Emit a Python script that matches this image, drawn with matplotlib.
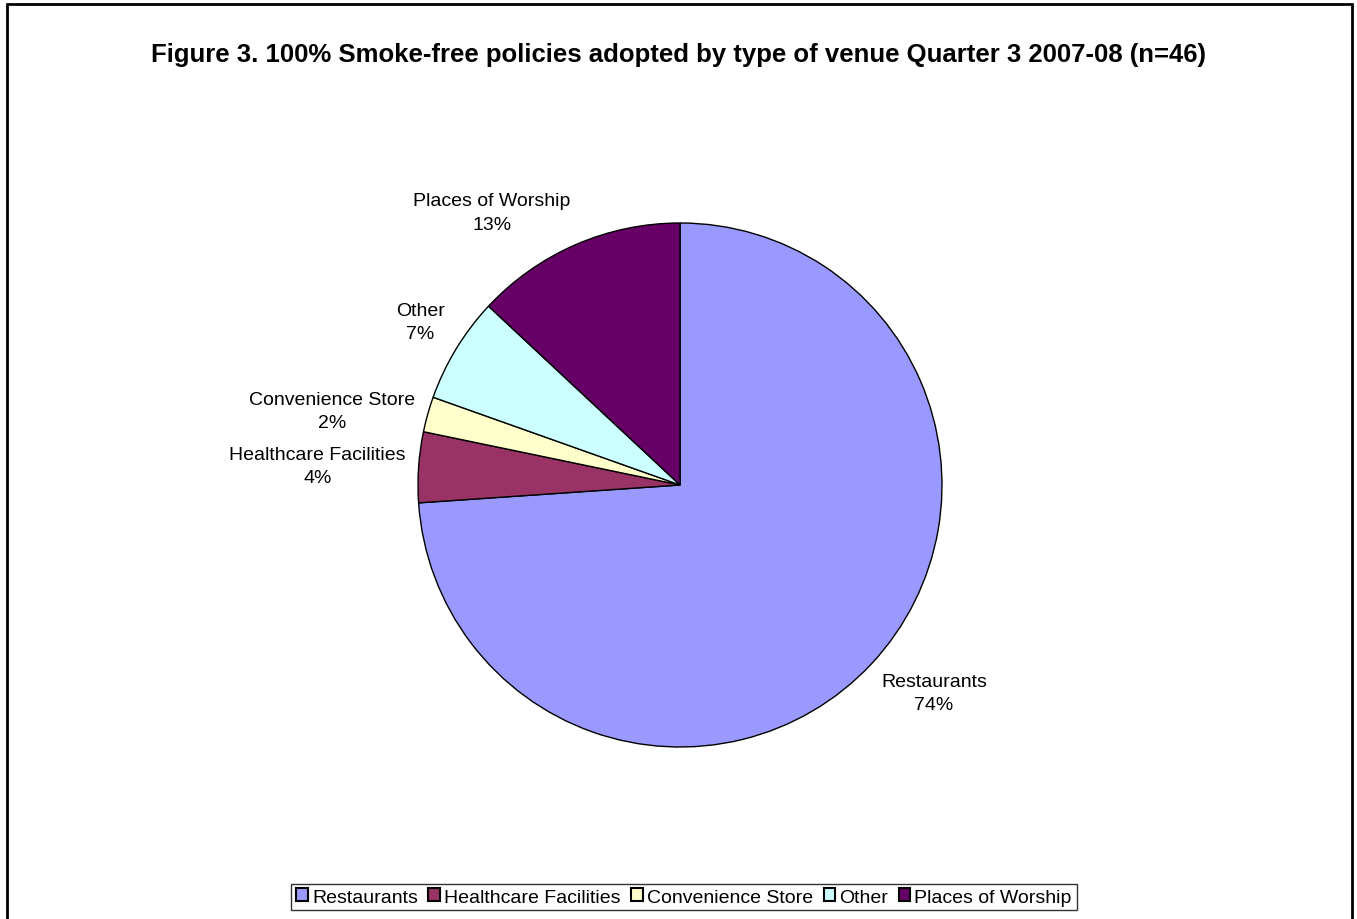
import numpy as np
import matplotlib.pyplot as plt
from matplotlib.patches import Rectangle

plt.rcParams['font.family'] = ['Liberation Sans', 'DejaVu Sans']

venues = ["Restaurants", "Healthcare Facilities", "Convenience Store", "Other", "Places of Worship"]
counts = [34, 2, 1, 3, 6]
pct_labels = ["74%", "4%", "2%", "7%", "13%"]
colors = ["#9999FF", "#993366", "#FFFFCC", "#CCFFFF", "#660066"]

W, H = 1357, 920
fig = plt.figure(figsize=(W / 100, H / 100), dpi=100)
ax = fig.add_axes([0, 0, 1, 1])

# outer chart frame (bottom edge runs off the page)
ax.add_patch(Rectangle((7, -20), 1345, H - 5 + 20, fill=False, ec='black', lw=2, clip_on=False))

ax.text(W / 2, H - 55, "Figure 3. 100% Smoke-free policies adopted by type of venue Quarter 3 2007-08 (n=46)",
        ha='center', va='center', fontsize=18.5, fontweight='bold')

cx, cy, r = 680, H - 486, 262
wedges, _ = ax.pie(counts, colors=colors, startangle=90, counterclock=False,
                   center=(cx, cy), radius=r, frame=True,
                   wedgeprops=dict(edgecolor='black', linewidth=1))
ax.set_xlim(0, W)
ax.set_ylim(0, H)
ax.set_aspect('equal')
ax.axis('off')

for w, name, p in zip(wedges, venues, pct_labels):
    ang = np.deg2rad((w.theta1 + w.theta2) / 2)
    x = cx + r * 1.05 * np.cos(ang)
    y = cy + r * 1.05 * np.sin(ang)
    ha = 'left' if np.cos(ang) > 0 else 'right'
    s = np.sin(ang)
    va = 'bottom' if s > 0.5 else ('top' if s < -0.5 else 'center')
    ax.text(x, y, f"{name}\n{p}", ha=ha, va=va, multialignment='center',
            fontsize=14, linespacing=1.5)

leg = ax.legend(wedges, venues, loc='center', bbox_to_anchor=(684 / W, 1 - 898 / H),
                ncol=5, frameon=True, fancybox=False, fontsize=14,
                handlelength=0.6, handleheight=0.6, handletextpad=0.2,
                columnspacing=0.55, borderpad=0.25, borderaxespad=0)
leg.get_frame().set_edgecolor('black')
leg.get_frame().set_linewidth(1)
for h in leg.legend_handles:
    h.set_edgecolor('black')
    h.set_linewidth(1.5)

fig.savefig("out.png", dpi=100)
